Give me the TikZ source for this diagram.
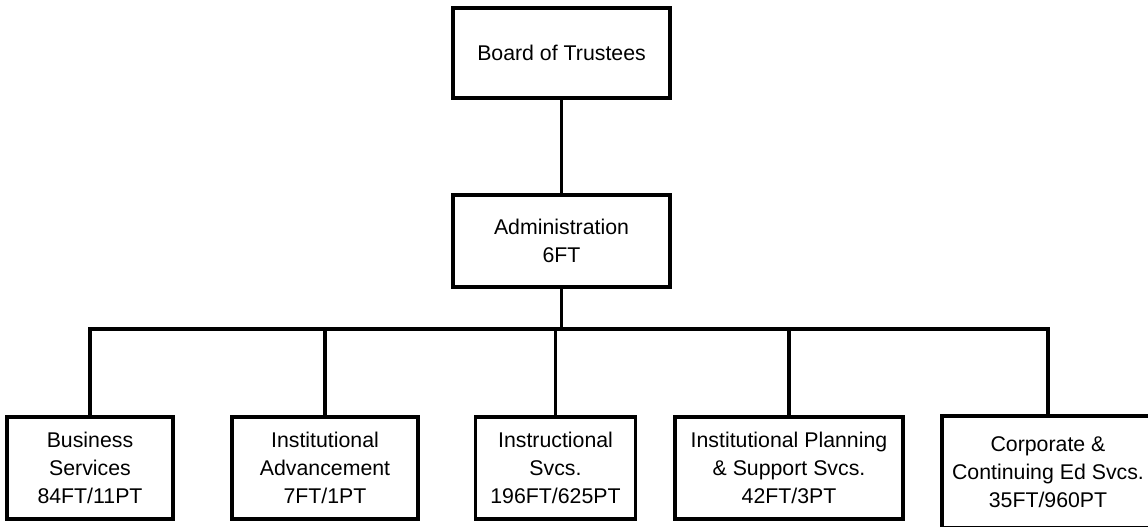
\documentclass[tikz,border=0pt]{standalone}
\usepackage{fontspec}
\setmainfont{Liberation Sans}
\begin{document}
\begin{tikzpicture}[x=1pt,y=1pt,
  orgbox/.style={draw=black, line width=3.2pt, fill=white, align=center, inner sep=0pt,
    font=\fontsize{21.3}{28.3}\selectfont},
  link/.style={line width=3.2pt, line cap=rect}]
\useasboundingbox (0,0) rectangle (1148,-527);
\fill[white] (0,0) rectangle (1148,-527);
\node[orgbox, minimum width=217, minimum height=90] (board) at (561.5,-53) {Board of Trustees};
\node[orgbox, minimum width=217, minimum height=92] (admin) at (561.5,-241) {Administration\\6FT};
\coordinate (bar) at (562,-329);
\node[orgbox, minimum width=166, minimum height=102] (bus) at (90,-468) {Business\\Services\\84FT/11PT};
\node[orgbox, minimum width=186, minimum height=102] (ia) at (325,-468) {Institutional\\Advancement\\7FT/1PT};
\node[orgbox, minimum width=160, minimum height=102] (ins) at (555.5,-468) {Instructional\\Svcs.\\196FT/625PT};
\node[orgbox, minimum width=228, minimum height=102] (ip) at (789,-468) {Institutional Planning\\\& Support Svcs.\\42FT/3PT};
\node[orgbox, minimum width=212, minimum height=112] (corp) at (1048,-472) {Corporate \&\\Continuing Ed Svcs.\\35FT/960PT};
\draw[link] (board.south) -- (admin.north);
\draw[link] (admin.south) -- (admin.south |- bar);
\draw[link] (bus.north) |- (corp.north |- bar) -- (corp.north);
\draw[link] (ia.north) -- (ia.north |- bar);
\draw[link] (ins.north) -- (ins.north |- bar);
\draw[link] (ip.north) -- (ip.north |- bar);
\end{tikzpicture}
\end{document}
